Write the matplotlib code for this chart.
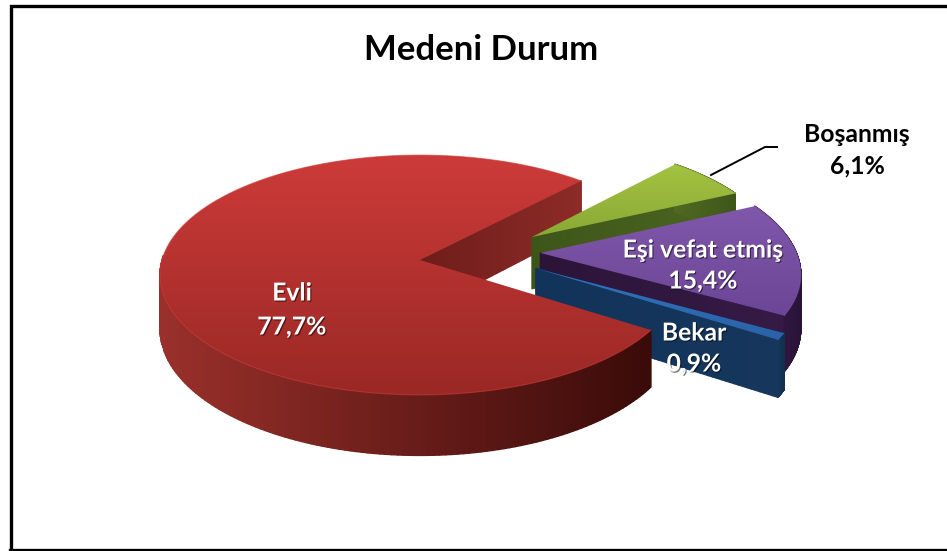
import numpy as np
import matplotlib
matplotlib.use('Agg')
import matplotlib.pyplot as plt
import matplotlib.patheffects as pe
from matplotlib.colors import LinearSegmentedColormap
from matplotlib.patches import Polygon
from matplotlib.collections import PolyCollection

title = 'Medeni Durum'
labels = ['Boşanmış', 'Eşi vefat etmiş', 'Bekar', 'Evli']
values = [6.1, 15.4, 0.9, 77.7]

# pie geometry, in pixels of the 947x551 picture
CX, CY = 420, 260
RX, RY = 258, 118
K = 0.125
DEPTH = 53
START = 47

# unit-circle explode offset and radius of each slice
offsets = [(0.445, 0.20), (0.47, 0.06), (0.445, -0.07), (0, 0)]
radii = [0.96, 1, 1, 1]
top_cols = [('#a3c343', '#8aa834'), ('#8058ab', '#6d4596'), ('#2f74c0', '#2a62a6'), ('#cc3b39', '#9a2825')]
side_cols = [('#4f6a22', '#3f561a'), ('#3b1e4e', '#2a1338'), ('#173a63', '#12304f'), ('#9a302b', '#3a0b09')]
face_cols = [('#3e5519', '#4b6620'), ('#2b1438', '#351a46'), ('#12345a', '#16365c'), ('#6e1d1a', '#8c2b27')]
label_pos = [(857, 135, 857, 166), (703, 250, 703, 281), (694, 333, 694, 364), (292, 293, 292, 327)]


def project(u, v):
    f = 1 + K * v
    return CX + RX * u / f, CY - RY * v / f


def depth_at(v):
    return DEPTH / (1 + K * v)


def hex_ramp(pair):
    return LinearSegmentedColormap.from_list('r', list(pair))


def draw_quads(ax, xs, ys, ds, pair, z):
    # strip made of small quads, shaded from left to right
    cmap = hex_ramp(pair)
    x0, x1 = min(xs), max(xs)
    quads, cols = [], []
    for i in range(len(xs) - 1):
        quads.append([(xs[i], ys[i]), (xs[i + 1], ys[i + 1]),
                      (xs[i + 1], ys[i + 1] + ds[i + 1]), (xs[i], ys[i] + ds[i])])
        cols.append(cmap((0.5 * (xs[i] + xs[i + 1]) - x0) / max(x1 - x0, 1)))
    ax.add_collection(PolyCollection(quads, facecolors=cols, edgecolors=cols, linewidths=1.0, zorder=z))


def draw_slice(ax, a0, a1, off, rad, top, side, face, z):
    # a0 is the clockwise end of the slice, a1 the counter clockwise end
    t = np.radians(np.linspace(a0, a1, 240))
    u = off[0] + rad * np.cos(t)
    v = off[1] + rad * np.sin(t)
    ax_x, ax_y = project(u, v)
    ox, oy = project(off[0], off[1])

    # cut face: the a0 end is the one that looks at the viewer on every slice
    # the face of the big slice sits behind all the small ones
    ue, ve = u[0], v[0]
    s = np.linspace(0, 1, 60)
    fx, fy = project(off[0] + (ue - off[0]) * s, off[1] + (ve - off[1]) * s)
    face_z = 1 if a1 - a0 > 180 else z
    draw_quads(ax, fx, fy, depth_at(off[1] + (ve - off[1]) * s), face, face_z)

    # outer wall, only the part looking at the viewer
    keep = np.sin(t) < 0.05
    if a1 - a0 < 180:
        keep = np.ones(len(t), dtype=bool)
    xs, ys, vs = ax_x[keep], ax_y[keep], v[keep]
    order = np.argsort(xs)
    draw_quads(ax, xs[order], ys[order], depth_at(vs[order]), side, z + 0.1)

    # top surface, with a vertical gradient clipped to the slice outline
    pts = np.column_stack([np.r_[ox, ax_x], np.r_[oy, ax_y]])
    patch = Polygon(pts, closed=True, facecolor='none', edgecolor='none', zorder=z + 0.2)
    ax.add_patch(patch)
    grad = np.linspace(0, 1, 256).reshape(-1, 1)
    im = ax.imshow(grad, cmap=hex_ramp(top), aspect='auto', zorder=z + 0.2,
                   extent=(pts[:, 0].min(), pts[:, 0].max(), pts[:, 1].max(), pts[:, 1].min()))
    im.set_clip_path(patch)
    ax.plot(ax_x, ax_y, color=top[0], lw=0.8, alpha=0.6, zorder=z + 0.3)


def medeni_plot():
    plt.rcParams['font.family'] = ['Lato', 'DejaVu Sans']
    fig = plt.figure(figsize=(9.47, 5.51), dpi=100)
    ax = fig.add_axes([0, 0, 1, 1])

    # small slices run clockwise from START, the big one counter clockwise from it
    # it is drawn last so it covers the others
    angle = START
    for i in range(len(values)):
        step = values[i] / sum(values) * 360
        if labels[i] == 'Evli':
            a0, a1 = START, START + step
        else:
            a0, a1 = angle - step, angle
            angle = a0
        draw_slice(ax, a0, a1, offsets[i], radii[i], top_cols[i], side_cols[i], face_cols[i], 2 + i)

    ax.set_xlim(0, 947)
    ax.set_ylim(551, 0)
    ax.axis('off')

    # frame
    ax.plot([10.5, 10.5, 947], [551, 5.5, 5.5], color='black', lw=2.4, solid_joinstyle='miter', zorder=10)
    ax.plot([10, 947], [550, 550], color='black', lw=2.4, zorder=10)

    ax.text(481, 50, title, fontsize=25, fontweight='bold', color='black', ha='center', va='center', zorder=11)
    shadow = [pe.withSimplePatchShadow(offset=(0.8, -0.8), shadow_rgbFace='black', alpha=0.55)]
    for i in range(len(labels)):
        col = 'black' if i == 0 else 'white'
        x0, y0, x1, y1 = label_pos[i]
        fx = [] if i == 0 else shadow
        ax.text(x0, y0, labels[i], fontsize=17.8, fontweight='bold', color=col, ha='center', va='center',
                zorder=11, path_effects=fx)
        ax.text(x1, y1, ('%.1f%%' % values[i]).replace('.', ','), fontsize=17.8, fontweight='bold', color=col,
                ha='center', va='center', zorder=11, path_effects=fx)

    # leader line of the small slice
    ax.plot([711, 765, 777], [175, 147, 147], color='black', lw=1.4, zorder=11)

    fig.savefig('out.png', dpi=100)


def main():
    medeni_plot()


if __name__ == "__main__":
    main()
